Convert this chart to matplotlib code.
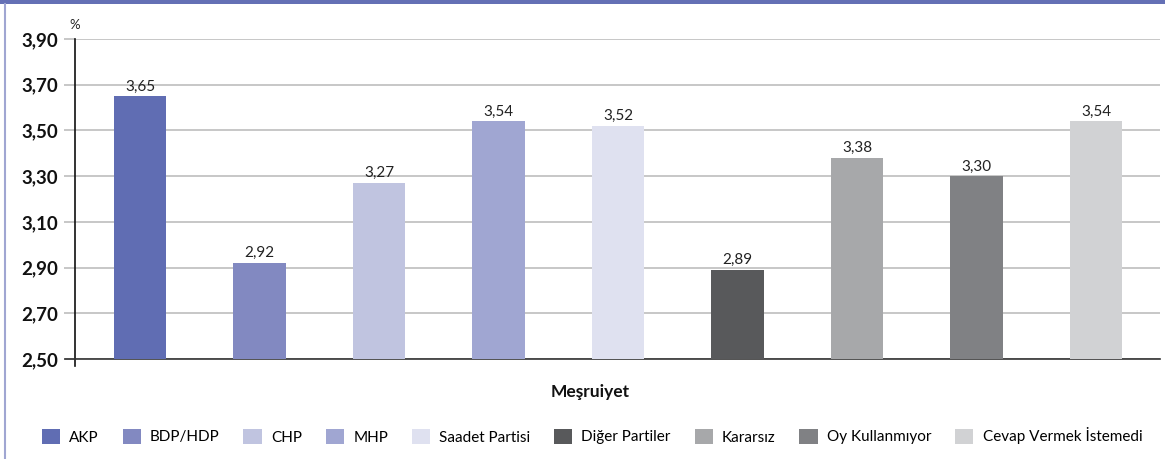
import matplotlib
matplotlib.use("Agg")
import matplotlib.pyplot as plt
from matplotlib.patches import Rectangle
from matplotlib.lines import Line2D

categories = ["AKP", "BDP/HDP", "CHP", "MHP", "Saadet Partisi", "Diğer Partiler",
              "Kararsız", "Oy Kullanmıyor", "Cevap Vermek İstemedi"]
values = [3.65, 2.92, 3.27, 3.54, 3.52, 2.89, 3.38, 3.30, 3.54]
colors = ["#606db3", "#8289c1", "#c0c4e0", "#a0a6d2", "#dfe1f0", "#58595b",
          "#a7a8aa", "#808184", "#d1d2d4"]
yticks = [2.50, 2.70, 2.90, 3.10, 3.30, 3.50, 3.70, 3.90]
ylabels = ["2,50", "2,70", "2,90", "3,10", "3,30", "3,50", "3,70", "3,90"]
title = "Meşruiyet"

plt.rcParams['font.family'] = ['Lato', 'DejaVu Sans']

W, H = 1165, 459
fig = plt.figure(figsize=(W / 100, H / 100), dpi=100)

ax = fig.add_axes([75 / W, 1 - 359 / H, (1160 - 75) / W, (359 - 39) / H])
x = list(range(len(categories)))
bars = ax.bar(x, [v - 2.5 for v in values], bottom=2.5, width=0.44, color=colors, zorder=3)
for xi, v in zip(x, values):
    ax.text(xi, v + 0.012, f"{v:.2f}".replace(".", ","), ha="center", va="bottom",
            fontsize=11, color="#222222", zorder=4)

ax.set_ylim(2.5, 3.9)
ax.set_xlim(-0.545, 8.535)
ax.set_yticks(yticks)
ax.set_yticklabels(ylabels, fontsize=13.5, fontweight="bold", color="#111111")
ax.set_xticks([])
ax.grid(axis="y", color="#bdbdbd", linewidth=1.2, zorder=0)
ax.tick_params(axis="y", length=8, width=1.2, color="#bdbdbd", pad=4)
ax.yaxis.get_major_ticks()[0].tick1line.set_color("#333333")
for s in ["top", "right"]:
    ax.spines[s].set_visible(False)
ax.spines["left"].set_color("#111111")
ax.spines["left"].set_linewidth(1.2)
ax.spines["left"].set_bounds(2.5 - 0.03, 3.9)
ax.spines["bottom"].set_color("#333333")
ax.spines["bottom"].set_linewidth(1.2)
ax.spines["bottom"].set_bounds(-0.63, 8.535)
ax.set_axisbelow(True)

fig.text(75 / W, 1 - 25 / H, "%", fontsize=9.5, ha="center", va="center", color="#222222")
fig.text(590 / W, 1 - 392 / H, title, fontsize=12.5, fontweight="bold", ha="center",
         va="center", color="#111111")

handles = [Rectangle((0, 0), 1, 1, facecolor=c, edgecolor="none") for c in colors]
fig.legend(handles, categories, loc="center", bbox_to_anchor=(592 / W, 1 - 436 / H),
           ncol=len(categories), frameon=False, fontsize=11, handlelength=1.2,
           handleheight=1.2, handletextpad=0.6, columnspacing=1.55, borderaxespad=0)

# decorative frame
fig.add_artist(Rectangle((0, 1 - 4 / H), 1, 4 / H, transform=fig.transFigure,
                         facecolor="#6470b5", edgecolor="none"))
fig.add_artist(Line2D([4.5 / W, 4.5 / W], [0, 1 - 4 / H], transform=fig.transFigure,
                      color="#a0a6d2", linewidth=1.5))

fig.savefig("out.png", dpi=100)
